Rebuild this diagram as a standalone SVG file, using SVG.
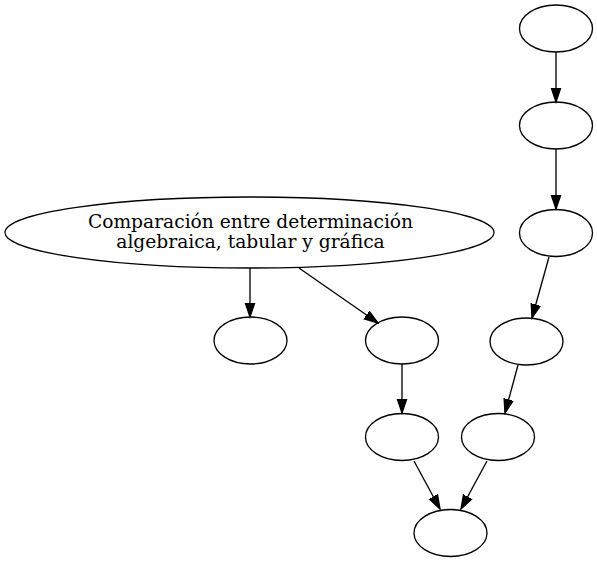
<svg xmlns="http://www.w3.org/2000/svg" width="597" height="562" viewBox="0 0 597 562">
<style>
.n ellipse{fill:none;stroke:#000;stroke-width:1.33}
.e path{fill:none;stroke:#000;stroke-width:1.33;marker-end:url(#ah)}
text{font-family:"DejaVu Serif","Liberation Serif",serif;font-size:18.67px;text-anchor:middle;fill:#000}
</style>
<defs>
<marker id="ah" markerUnits="userSpaceOnUse" markerWidth="16" markerHeight="12" viewBox="0 -6 16 12" refX="14" refY="0" orient="auto">
<polygon points="0,-4.7 14,0 0,4.7" fill="#000" stroke="#000" stroke-width="1.33"/>
</marker>
</defs>
<rect width="597" height="562" fill="#fff"/>
<g class="e" id="edges">
<path d="M556,52 L556,102"/>
<path d="M556,149 L556,209"/>
<path d="M549,257 L532,318"/>
<path d="M518,365 L505,413"/>
<path d="M250,268 L250,317"/>
<path d="M299,268 L378,323"/>
<path d="M402,364 L402,413"/>
<path d="M414,461 L440,509"/>
<path d="M487,461 L461,509"/>
</g>
<g class="n" id="n0"><ellipse cx="249.5" cy="232.5" rx="244.5" ry="35.5"/><text x="250.5" y="228.3">Comparación entre determinación</text><text x="250.5" y="247.7">algebraica, tabular y gráfica</text></g>
<g class="n" id="n1"><ellipse cx="556" cy="28.5" rx="36.5" ry="23.5"/></g>
<g class="n" id="n2"><ellipse cx="556" cy="125.5" rx="36.5" ry="23.5"/></g>
<g class="n" id="n3"><ellipse cx="556" cy="233" rx="36.5" ry="23.5"/></g>
<g class="n" id="n4"><ellipse cx="526.5" cy="341.5" rx="36.5" ry="23.5"/></g>
<g class="n" id="n5"><ellipse cx="498" cy="437" rx="36.5" ry="23.5"/></g>
<g class="n" id="n6"><ellipse cx="250.5" cy="340.5" rx="36.5" ry="23.5"/></g>
<g class="n" id="n7"><ellipse cx="402" cy="340.5" rx="36.5" ry="23.5"/></g>
<g class="n" id="n8"><ellipse cx="402" cy="437" rx="36.5" ry="23.5"/></g>
<g class="n" id="n9"><ellipse cx="450.5" cy="533" rx="36.5" ry="23.5"/></g>
</svg>
